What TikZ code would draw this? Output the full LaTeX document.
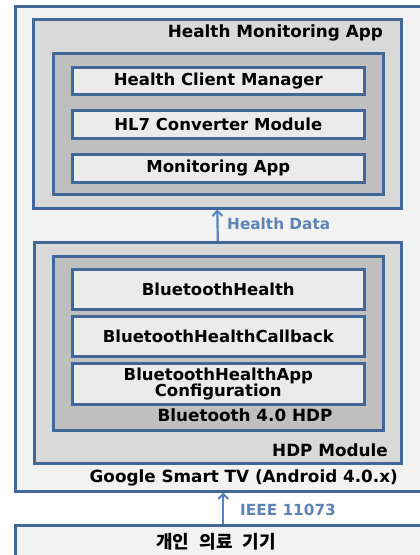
\documentclass[tikz,border=0pt]{standalone}
\usepackage{fontspec}
\setmainfont{DejaVu Sans}
\newfontfamily\kr{Noto Sans CJK KR}
\usetikzlibrary{arrows.meta}
\definecolor{bord}{HTML}{41689A}
\definecolor{fillA}{HTML}{F2F2F2}
\definecolor{fillB}{HTML}{D9D9D9}
\definecolor{fillC}{HTML}{BFBFBF}
\definecolor{fillD}{HTML}{EBEBEB}
\definecolor{arr}{HTML}{5584BE}
\definecolor{lbl}{HTML}{5E84B6}
\tikzset{
  frame/.style={draw=bord, line width=2.6pt, rectangle, inner sep=0pt, anchor=north west},
  itembox/.style={frame, fill=fillD, minimum width=292pt, font=\bfseries\fontsize{16.5}{17}\selectfont, align=center, text=black},
  title/.style={font=\bfseries\fontsize{16.8}{17}\selectfont, text=black, inner sep=0pt},
  arlabel/.style={font=\bfseries\fontsize{15.3}{16}\selectfont, text=lbl, inner sep=0pt},
  flow/.style={draw=arr, line width=2.2pt, -{Straight Barb[length=5pt, width=10pt, line width=2pt]}}
}
\begin{document}
\begin{tikzpicture}[x=1pt, y=-1pt]
\useasboundingbox (0,0) rectangle (420,555);
\fill[white] (0,0) rectangle (420,555);
\clip (0,0) rectangle (420,555);
% outer boxes
\node[frame, fill=fillA, minimum width=416pt, minimum height=485pt] (tv) at (14,5) {};
\node[frame, fill=fillA, minimum width=416pt, minimum height=60pt] (dev) at (14,524) {};
% Health monitoring app
\node[frame, fill=fillB, minimum width=368pt, minimum height=189pt] (hma) at (32,18) {};
\node[frame, fill=fillC, minimum width=330pt, minimum height=141pt] (hmain) at (52,52) {};
\node[itembox, minimum height=27pt] (hcm) at (71,66) {Health Client Manager};
\node[itembox, minimum height=28pt] (hl7) at (71,109) {HL7 Converter Module};
\node[itembox, minimum height=28pt] (mon) at (71,153) {Monitoring App};
% HDP module
\node[frame, fill=fillB, minimum width=367pt, minimum height=221pt] (hdp) at (33,241) {};
\node[frame, fill=fillC, minimum width=330pt, minimum height=174pt] (bt) at (52,255) {};
\node[itembox, minimum height=40pt] (bh) at (71,268) {BluetoothHealth};
\node[itembox, minimum height=40pt] (bhc) at (71,315) {BluetoothHealthCallback};
\node[itembox, minimum height=41pt] (bha) at (71,362) {BluetoothHealthApp\\[-1pt]Configuration};
% titles
\node[title, anchor=east] (t1) at (383,33) {Health Monitoring App};
\node[title, anchor=center] (t2) at (245,415) {Bluetooth 4.0 HDP};
\node[title, anchor=east] (t3) at (388,450) {HDP Module};
\node[title, anchor=east] (t4) at (398,478) {Google Smart TV (Android 4.0.x)};
\node[font=\kr\bfseries\fontsize{18}{19}\selectfont, inner sep=0pt] (t5) at (216,542) {개인\hspace{0.55em}의료\hspace{0.55em}기기};
% arrows
\draw[flow] (hdp.north) -- (hma.south);
\draw[flow] (dev.north) -- (tv.south);
\node[arlabel, anchor=west] (l1) at (227,224) {Health Data};
\node[arlabel, anchor=west] (l2) at (240,510) {IEEE 11073};
\end{tikzpicture}
\end{document}
